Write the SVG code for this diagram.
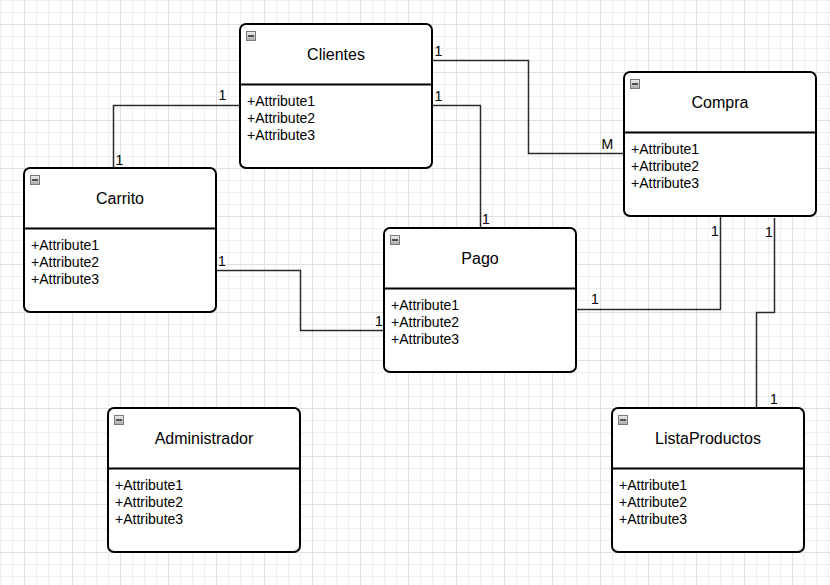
<svg xmlns="http://www.w3.org/2000/svg" width="830" height="585" viewBox="0 0 830 585">
  <defs>
    <!-- background grid: minor every 12px, major every 48px -->
    <pattern id="grid" x="24" y="24" width="48" height="48" patternUnits="userSpaceOnUse">
      <path d="M12.5 0V48M24.5 0V48M36.5 0V48M0 12.5H48M0 24.5H48M0 36.5H48" stroke="#efefef" stroke-width="1" fill="none"/>
      <path d="M0.5 0V48M0 0.5H48" stroke="#e0e0e0" stroke-width="1" fill="none"/>
    </pattern>
    <linearGradient id="btnFill" x1="0" y1="0" x2="0" y2="1">
      <stop offset="0" stop-color="#f0f0f0"/>
      <stop offset="1" stop-color="#a8a8a8"/>
    </linearGradient>
    <!-- collapse button shown in each class header -->
    <symbol id="collapse" viewBox="0 0 10 10" width="10" height="10" overflow="visible">
      <rect x="0.5" y="0.5" width="9" height="9" fill="url(#btnFill)" stroke="#7a7a7a" stroke-width="1"/>
      <path d="M2 5H8" stroke="#222" stroke-width="1.4"/>
    </symbol>
  </defs>
  <style>
    .box { fill: #ffffff; stroke: #000000; stroke-width: 2; }
    .sep { stroke: #000000; stroke-width: 2; }
    .title { font-family: "Liberation Sans", Arial, sans-serif; font-size: 16px; fill: #000; text-anchor: middle; }
    .attr { font-family: "Liberation Sans", Arial, sans-serif; font-size: 14px; fill: #000; }
    .edge { fill: none; stroke: #2b2b2b; stroke-width: 1.5; }
    .mult { font-family: "Liberation Sans", Arial, sans-serif; font-size: 14px; fill: #000; }
  </style>

  <rect x="0" y="0" width="830" height="585" fill="#ffffff"/>
  <rect x="0" y="0" width="830" height="585" fill="url(#grid)"/>

  <!-- associations -->
  <g id="connectors">
    <path class="edge" d="M432 60.5H528.5V153.5H624"/>
    <path class="edge" d="M432 105.5H480.5V228"/>
    <path class="edge" d="M240 105.5H113.5V168"/>
    <path class="edge" d="M216 270.5H300.5V330.5H384"/>
    <path class="edge" d="M576 309.5H720.5V216"/>
    <path class="edge" d="M774.5 218V312.5H756.5V408"/>
    <text class="mult" x="434.5" y="56">1</text>
    <text class="mult" x="601.5" y="148.5">M</text>
    <text class="mult" x="434.5" y="100.5">1</text>
    <text class="mult" x="482" y="224">1</text>
    <text class="mult" x="218.5" y="99.5">1</text>
    <text class="mult" x="115.5" y="165">1</text>
    <text class="mult" x="218" y="266">1</text>
    <text class="mult" x="375" y="326">1</text>
    <text class="mult" x="591" y="304">1</text>
    <text class="mult" x="711" y="236">1</text>
    <text class="mult" x="765" y="236.5">1</text>
    <text class="mult" x="770" y="404">1</text>
  </g>

  <g id="clientes" transform="translate(240,24)">
    <rect class="box" x="0" y="0" width="192" height="144" rx="6"/>
    <path class="sep" d="M0 60.5H192"/>
    <use href="#collapse" x="6" y="7"/>
    <text class="title" x="96" y="35.5">Clientes</text>
    <text class="attr" x="7" y="81.5">+Attribute1</text>
    <text class="attr" x="7" y="98.5">+Attribute2</text>
    <text class="attr" x="7" y="115.5">+Attribute3</text>
  </g>

  <g id="compra" transform="translate(624,72)">
    <rect class="box" x="0" y="0" width="192" height="144" rx="6"/>
    <path class="sep" d="M0 60.5H192"/>
    <use href="#collapse" x="6" y="7"/>
    <text class="title" x="96" y="35.5">Compra</text>
    <text class="attr" x="7" y="81.5">+Attribute1</text>
    <text class="attr" x="7" y="98.5">+Attribute2</text>
    <text class="attr" x="7" y="115.5">+Attribute3</text>
  </g>

  <g id="carrito" transform="translate(24,168)">
    <rect class="box" x="0" y="0" width="192" height="144" rx="6"/>
    <path class="sep" d="M0 60.5H192"/>
    <use href="#collapse" x="6" y="7"/>
    <text class="title" x="96" y="35.5">Carrito</text>
    <text class="attr" x="7" y="81.5">+Attribute1</text>
    <text class="attr" x="7" y="98.5">+Attribute2</text>
    <text class="attr" x="7" y="115.5">+Attribute3</text>
  </g>

  <g id="pago" transform="translate(384,228)">
    <rect class="box" x="0" y="0" width="192" height="144" rx="6"/>
    <path class="sep" d="M0 60.5H192"/>
    <use href="#collapse" x="6" y="7"/>
    <text class="title" x="96" y="35.5">Pago</text>
    <text class="attr" x="7" y="81.5">+Attribute1</text>
    <text class="attr" x="7" y="98.5">+Attribute2</text>
    <text class="attr" x="7" y="115.5">+Attribute3</text>
  </g>

  <g id="administrador" transform="translate(108,408)">
    <rect class="box" x="0" y="0" width="192" height="144" rx="6"/>
    <path class="sep" d="M0 60.5H192"/>
    <use href="#collapse" x="6" y="7"/>
    <text class="title" x="96" y="35.5">Administrador</text>
    <text class="attr" x="7" y="81.5">+Attribute1</text>
    <text class="attr" x="7" y="98.5">+Attribute2</text>
    <text class="attr" x="7" y="115.5">+Attribute3</text>
  </g>

  <g id="listaproductos" transform="translate(612,408)">
    <rect class="box" x="0" y="0" width="192" height="144" rx="6"/>
    <path class="sep" d="M0 60.5H192"/>
    <use href="#collapse" x="6" y="7"/>
    <text class="title" x="96" y="35.5">ListaProductos</text>
    <text class="attr" x="7" y="81.5">+Attribute1</text>
    <text class="attr" x="7" y="98.5">+Attribute2</text>
    <text class="attr" x="7" y="115.5">+Attribute3</text>
  </g>
</svg>
